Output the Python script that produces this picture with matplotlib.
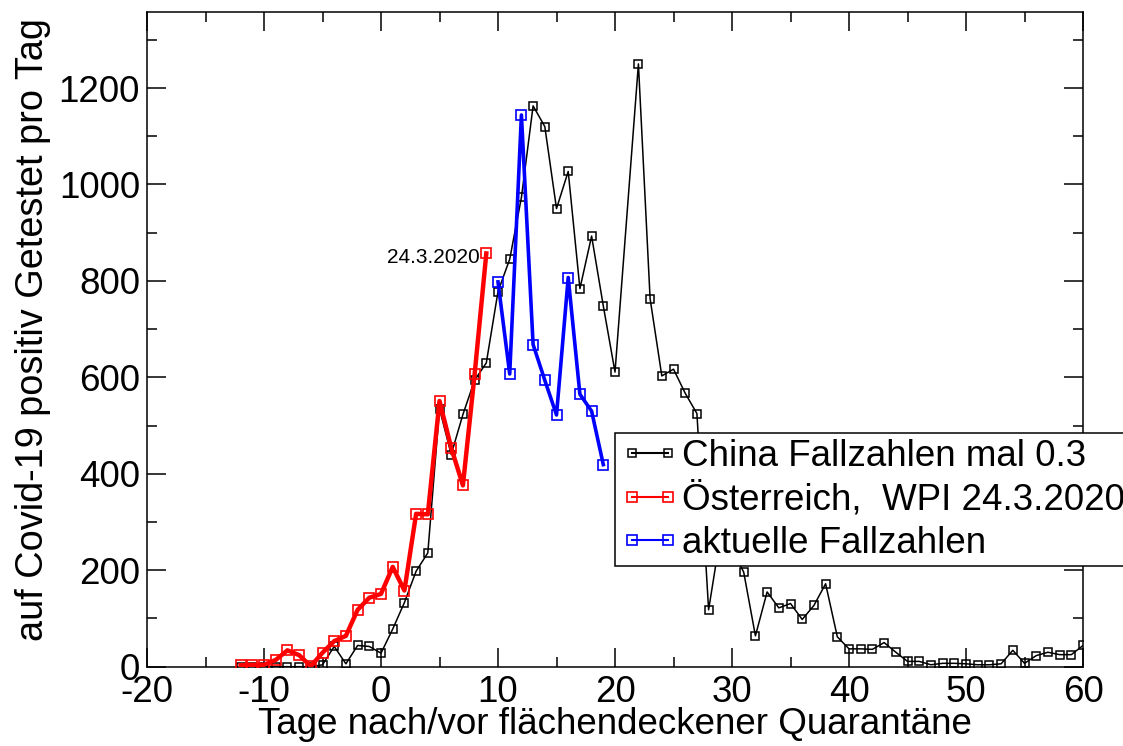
import matplotlib
matplotlib.use('Agg')
import matplotlib.pyplot as plt

plt.rcParams['font.family'] = ['Liberation Sans', 'DejaVu Sans']
plt.rcParams['axes.unicode_minus'] = False

# China Fallzahlen * 0.3 (Tage relativ zur Quarantäne), Tag 21 fehlt
china_x = [-12, -11, -10, -9, -8, -7, -6, -5, -4, -3, -2, -1, 0, 1, 2, 3, 4, 5, 6, 7, 8, 9,
           10, 11, 12, 13, 14, 15, 16, 17, 18, 19, 20, 22, 23, 24, 25, 26, 27, 28, 29, 30,
           31, 32, 33, 34, 35, 36, 37, 38, 39, 40, 41, 42, 43, 44, 45, 46, 47, 48, 49, 50,
           51, 52, 53, 54, 55, 56, 57, 58, 59, 60]
china_y = [0, 0, 0, 0, 0, 0, 0, 4, 42, 6, 44, 42, 28, 78, 133, 198, 236, 535, 440, 523, 594, 630,
           778, 845, 973, 1163, 1120, 950, 1027, 784, 893, 748, 611, 1250, 763, 603, 617, 567, 525, 118, 270, 244,
           196, 64, 155, 122, 131, 98, 127, 172, 62, 37, 37, 36, 50, 30, 11, 11, 4, 7, 7, 6,
           4, 4, 6, 34, 7, 23, 30, 25, 25, 44]

# Österreich, WPI 24.3.2020
at_x = [-12, -11, -10, -9, -8, -7, -6, -5, -4, -3, -2, -1, 0, 1, 2, 3, 4, 5, 6, 7, 8, 9]
at_y = [3, 4, 4, 14, 34, 24, 1, 29, 53, 64, 118, 143, 151, 207, 158, 317, 316, 551, 454, 376, 606, 857]

# aktuelle Fallzahlen
akt_x = [10, 11, 12, 13, 14, 15, 16, 17, 18, 19]
akt_y = [798, 607, 1144, 668, 594, 522, 807, 565, 530, 419]

fig = plt.figure(figsize=(11.23, 7.46), dpi=100)
ax = fig.add_axes([0.1309, 0.1063, 0.8335, 0.8772])

ax.plot(china_x, china_y, color='black', lw=1.1, marker='s', ms=6.2, mfc='none', mec='black', mew=1.1,
        label='China Fallzahlen mal 0.3', zorder=2)
ax.plot(at_x, at_y, color='red', lw=3.2, marker='s', ms=6.5, mfc='none', mec='red', mew=1.2,
        label='Österreich,  WPI 24.3.2020', zorder=3)
ax.plot(akt_x, akt_y, color='blue', lw=2.6, marker='s', ms=6.5, mfc='none', mec='blue', mew=1.2,
        label='aktuelle Fallzahlen', zorder=3)

ax.annotate('24.3.2020', xy=(at_x[-1], at_y[-1]), xytext=(-5, -3), textcoords='offset points',
            ha='right', va='center', fontsize=15)

ax.set_xlim(-20, 60)
ax.set_ylim(0, 1357)
ax.set_xticks(range(-20, 61, 10))
ax.set_xticks(range(-15, 60, 10), minor=True)
ax.set_yticks(range(0, 1201, 200))
ax.set_yticks(range(100, 1400, 200), minor=True)

ax.tick_params(which='both', direction='in', top=True, right=True, width=1.1, labelsize=26.5)
ax.tick_params(which='major', length=13.5)
ax.tick_params(which='minor', length=7.5)
ax.tick_params(axis='y', pad=5)
ax.tick_params(axis='x', pad=6)
for s in ax.spines.values():
    s.set_linewidth(1.1)

ax.set_xlabel('Tage nach/vor flächendeckener Quarantäne', fontsize=26.5)
ax.set_ylabel('auf Covid-19 positiv Getestet pro Tag', fontsize=27.3)
ax.xaxis.set_label_coords(0.5, -0.062)
ax.yaxis.set_label_coords(-0.1026, 0.515)

leg = ax.legend(loc='upper left', bbox_to_anchor=(615 / 1123, 1 - 433 / 746),
                bbox_transform=fig.transFigure, fontsize=26.5, numpoints=2, fancybox=False,
                framealpha=1, edgecolor='black', borderpad=0.15, labelspacing=0.23,
                handlelength=1.59, handletextpad=0.08, borderaxespad=0)
leg.get_frame().set_linewidth(1.1)
for line in leg.get_lines():
    line.set_linewidth(1.5)

fig.savefig('out.png', dpi=100)
